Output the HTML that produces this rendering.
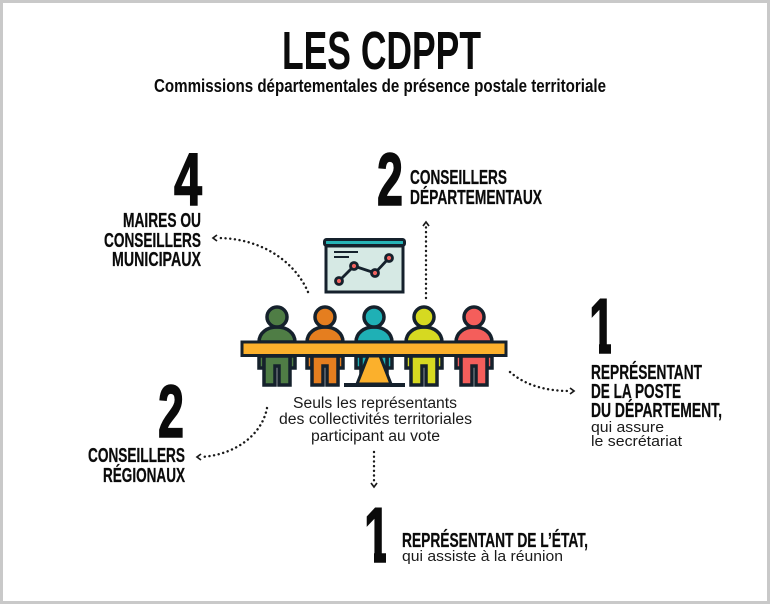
<!DOCTYPE html>
<html lang="fr"><head><meta charset="utf-8"><title>Les CDPPT</title>
<style>
html,body{margin:0;padding:0;background:#fff}
svg{display:block}
text{font-family:"Liberation Sans",sans-serif;fill:#0b0b0b}
.b{font-weight:700}
.d{font-weight:700;stroke:#0b0b0b;stroke-width:1.6}
.t{font-weight:700;stroke:#0b0b0b;stroke-width:.25}
.r{fill:#1a1a1a}
</style></head><body>
<svg width="770" height="604" viewBox="0 0 770 604" xmlns="http://www.w3.org/2000/svg">
<defs>
<g id="p" stroke="#15212c" stroke-width="3.5" stroke-linejoin="miter">
  <path d="M-18 356V368H-13V356ZM13 356V368H18V356Z"/>
  <path d="M-13 356V385H-2V366H2V385H13V356Z"/>
  <path d="M-18 342C-18 333-10 327 0 327S18 333 18 342Z"/>
  <circle cx="0" cy="317" r="10"/>
</g>
</defs>
<rect x="1.5" y="1.5" width="767" height="601" fill="#fff" stroke="#c9c9c9" stroke-width="3"/>

<text class="b" x="282" y="69" font-size="54" textLength="199" lengthAdjust="spacingAndGlyphs">LES CDPPT</text>
<text class="b" x="154" y="92" font-size="18" textLength="452" lengthAdjust="spacingAndGlyphs">Commissions départementales de présence postale territoriale</text>

<text class="d" x="174" y="205" font-size="74" textLength="28" lengthAdjust="spacingAndGlyphs">4</text>
<text class="t" x="123" y="227" font-size="20" textLength="78" lengthAdjust="spacingAndGlyphs">MAIRES OU</text>
<text class="t" x="104" y="247" font-size="20" textLength="97" lengthAdjust="spacingAndGlyphs">CONSEILLERS</text>
<text class="t" x="112" y="266" font-size="20" textLength="89" lengthAdjust="spacingAndGlyphs">MUNICIPAUX</text>

<text class="d" x="377" y="205" font-size="74" textLength="26" lengthAdjust="spacingAndGlyphs">2</text>
<text class="t" x="410" y="184" font-size="20" textLength="97" lengthAdjust="spacingAndGlyphs">CONSEILLERS</text>
<text class="t" x="410" y="204" font-size="20" textLength="132" lengthAdjust="spacingAndGlyphs">DÉPARTEMENTAUX</text>

<text class="d" x="589" y="353" font-size="78" textLength="26" lengthAdjust="spacingAndGlyphs">1</text>
<rect x="585" y="338" width="14" height="17" fill="#fff"/>
<rect x="611" y="338" width="8" height="17" fill="#fff"/>
<text class="t" x="591" y="379" font-size="20" textLength="111" lengthAdjust="spacingAndGlyphs">REPRÉSENTANT</text>
<text class="t" x="591" y="398" font-size="20" textLength="90" lengthAdjust="spacingAndGlyphs">DE LA POSTE</text>
<text class="t" x="591" y="417" font-size="20" textLength="131" lengthAdjust="spacingAndGlyphs">DU DÉPARTEMENT,</text>
<text class="r" x="591" y="432" font-size="15" textLength="73" lengthAdjust="spacingAndGlyphs">qui assure</text>
<text class="r" x="591" y="446" font-size="15" textLength="91" lengthAdjust="spacingAndGlyphs">le secrétariat</text>

<text class="d" x="158" y="437" font-size="74" textLength="26" lengthAdjust="spacingAndGlyphs">2</text>
<text class="t" x="88" y="462" font-size="20" textLength="97" lengthAdjust="spacingAndGlyphs">CONSEILLERS</text>
<text class="t" x="103" y="482" font-size="20" textLength="82" lengthAdjust="spacingAndGlyphs">RÉGIONAUX</text>

<text class="d" x="364" y="562" font-size="78" textLength="26" lengthAdjust="spacingAndGlyphs">1</text>
<rect x="360" y="547" width="14" height="17" fill="#fff"/>
<rect x="386" y="547" width="8" height="17" fill="#fff"/>
<text class="t" x="402" y="547" font-size="20" textLength="186" lengthAdjust="spacingAndGlyphs">REPRÉSENTANT DE L’ÉTAT,</text>
<text class="r" x="402" y="561" font-size="15" textLength="161" lengthAdjust="spacingAndGlyphs">qui assiste à la réunion</text>

<text class="r" x="293" y="408" font-size="15.5" textLength="164" lengthAdjust="spacingAndGlyphs">Seuls les représentants</text>
<text class="r" x="279" y="424" font-size="15.5" textLength="193" lengthAdjust="spacingAndGlyphs">des collectivités territoriales</text>
<text class="r" x="311" y="441" font-size="15.5" textLength="129" lengthAdjust="spacingAndGlyphs">participant au vote</text>

<!-- board -->
<rect x="326" y="246" width="77" height="46" fill="#d6e9e4" stroke="#15212c" stroke-width="3"/>
<rect x="324.5" y="239.5" width="80" height="6" rx="2" fill="#27b4b6" stroke="#15212c" stroke-width="3"/>
<path d="M334 252H358M334 257H349" stroke="#15212c" stroke-width="2" fill="none"/>
<polyline points="339,281 354,266 375,273 389,258" fill="none" stroke="#15212c" stroke-width="2.8"/>
<g fill="#f0625f" stroke="#15212c" stroke-width="2.8">
<circle cx="339" cy="281" r="3.5"/><circle cx="354" cy="266" r="3.5"/><circle cx="375" cy="273" r="3.5"/><circle cx="389" cy="258" r="3.5"/>
</g>

<!-- people -->
<use href="#p" x="277" fill="#4f7d45"/>
<use href="#p" x="325" fill="#e57e1f"/>
<use href="#p" x="374" fill="#1fb0b5"/>
<use href="#p" x="424" fill="#d6d921"/>
<use href="#p" x="474" fill="#f45e5b"/>

<!-- table -->
<path d="M368 356H380L391 384H357Z" fill="#fbb02c" stroke="#15212c" stroke-width="3" stroke-linejoin="round"/>
<rect x="344" y="383" width="61" height="4" fill="#15212c"/>
<rect x="242" y="342" width="264" height="13.5" fill="#fbb02c" stroke="#15212c" stroke-width="3"/>

<!-- connectors -->
<g fill="none" stroke="#1a1a1a" stroke-width="2.4" stroke-linecap="round" stroke-dasharray="0.1 4.6">
<path d="M308 292C295 262 262 238 217 238"/>
<path d="M426 298V226"/>
<path d="M510 372C525 385 545 391 570 391"/>
<path d="M267 408C262 435 235 455 201 457"/>
<path d="M374 452V482"/>
</g>
<g fill="none" stroke="#1a1a1a" stroke-width="1.7">
<path d="M217 235L213 238L217 241"/>
<path d="M423 226L426 222L429 226"/>
<path d="M570 388L574 391L570 394"/>
<path d="M201 454L197 457L201 460"/>
<path d="M371 483L374 487L377 483"/>
</g>
</svg>
</body></html>
